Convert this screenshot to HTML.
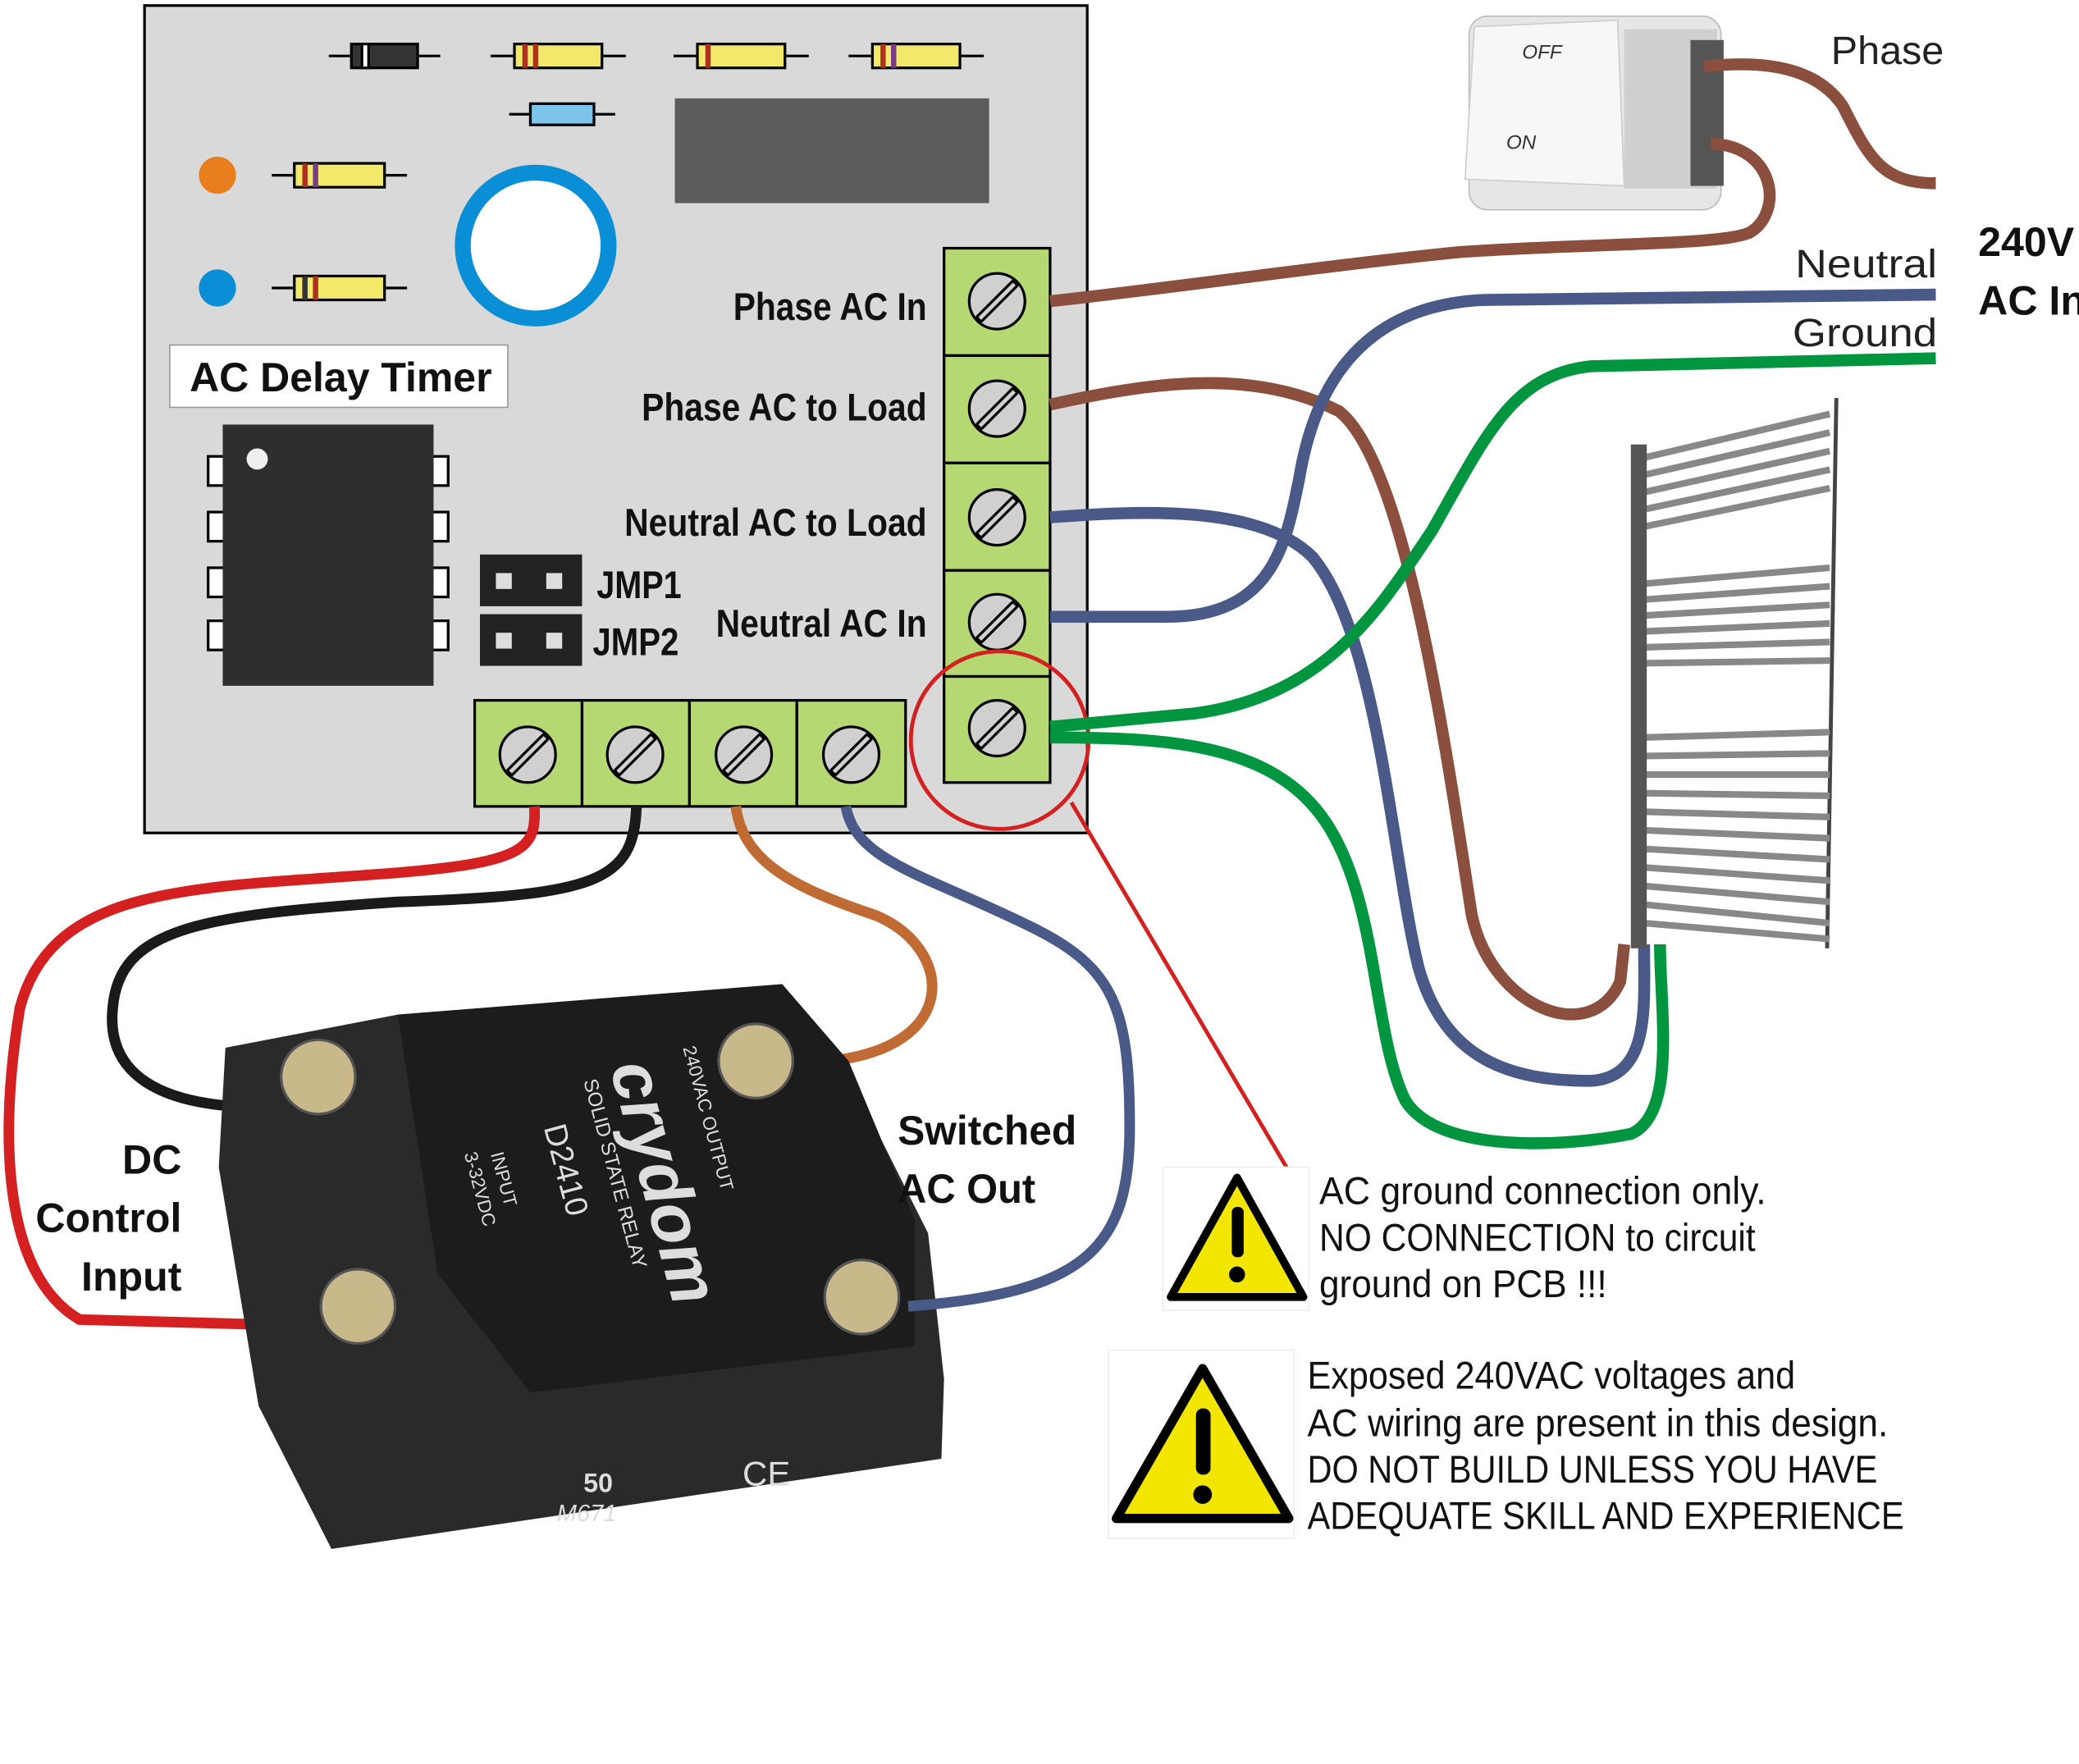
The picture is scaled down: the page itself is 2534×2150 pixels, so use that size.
<!DOCTYPE html>
<html><head><meta charset="utf-8"><style>
html,body{margin:0;padding:0;background:#fff}
svg{display:block}
.n{font-family:"Liberation Sans",sans-serif;font-weight:bold}
.s{font-family:"Liberation Sans",sans-serif}
</style></head><body>
<svg width="2534" height="2150" viewBox="0 0 1568 1330" xmlns="http://www.w3.org/2000/svg">
<rect width="1568" height="1330" fill="#fff"/>
<rect x="109" y="4" width="711" height="624" fill="#d9d9d9" stroke="#000" stroke-width="2"/>
<g stroke="#000" stroke-width="2">
<line x1="248" y1="42" x2="332" y2="42"/><rect x="265" y="33" width="50" height="18" fill="#333"/><rect x="273" y="33" width="5" height="18" fill="#fff"/>
<line x1="370" y1="42" x2="472" y2="42"/><rect x="388" y="33" width="66" height="18" fill="#f2e86a"/>
<line x1="508" y1="42" x2="610" y2="42"/><rect x="526" y="33" width="66" height="18" fill="#f2e86a"/>
<line x1="640" y1="42" x2="742" y2="42"/><rect x="658" y="33" width="66" height="18" fill="#f2e86a"/>
<line x1="384" y1="86" x2="464" y2="86"/><rect x="400" y="78" width="48" height="16" fill="#7cc4ea"/>
<line x1="205" y1="132" x2="307" y2="132"/><rect x="222" y="123" width="68" height="18" fill="#f2e86a"/>
<line x1="205" y1="217" x2="307" y2="217"/><rect x="222" y="208" width="68" height="18" fill="#f2e86a"/>
</g>
<g fill="#b03020"><rect x="394" y="33" width="4" height="18"/><rect x="402" y="33" width="4" height="18"/><rect x="532" y="33" width="4" height="18"/><rect x="664" y="33" width="4" height="18"/><rect x="672" y="33" width="4" height="18" fill="#7a3a8a"/><rect x="228" y="123" width="4" height="18"/><rect x="236" y="123" width="4" height="18" fill="#7a3a8a"/><rect x="228" y="208" width="4" height="18" fill="#333"/><rect x="236" y="208" width="4" height="18"/></g>
<rect x="509" y="74" width="237" height="79" fill="#5e5b5b"/>
<circle cx="404" cy="185" r="55" fill="#fff" stroke="#0a8fd6" stroke-width="12"/>
<circle cx="164" cy="132" r="14" fill="#e87e1c"/>
<circle cx="164" cy="217" r="14" fill="#0a8fd6"/>
<rect x="128" y="260" width="255" height="47" fill="#fff" stroke="#999"/>
<text x="143" y="295" class="s" font-size="31" font-weight="bold" fill="#111" textLength="228" lengthAdjust="spacingAndGlyphs">AC Delay Timer</text>
<g fill="#fff" stroke="#000" stroke-width="2">
<rect x="157" y="344" width="12" height="22"/><rect x="157" y="386" width="12" height="22"/><rect x="157" y="428" width="12" height="22"/><rect x="157" y="468" width="12" height="22"/>
<rect x="326" y="344" width="12" height="22"/><rect x="326" y="386" width="12" height="22"/><rect x="326" y="428" width="12" height="22"/><rect x="326" y="468" width="12" height="22"/>
</g>
<rect x="168" y="320" width="159" height="197" fill="#2e2e2e"/>
<circle cx="194" cy="346" r="8" fill="#eee"/>
<rect x="362" y="418" width="77" height="39" fill="#222"/><rect x="362" y="463" width="77" height="39" fill="#222"/>
<g fill="#ddd"><rect x="374" y="432" width="12" height="12"/><rect x="412" y="432" width="12" height="12"/><rect x="374" y="477" width="12" height="12"/><rect x="412" y="477" width="12" height="12"/></g>
<g class="n" font-size="29" fill="#111" lengthAdjust="spacingAndGlyphs">
<text x="450" y="451" textLength="64" lengthAdjust="spacingAndGlyphs">JMP1</text><text x="447" y="494" textLength="65" lengthAdjust="spacingAndGlyphs">JMP2</text>
<text x="553" y="241" textLength="146" lengthAdjust="spacingAndGlyphs">Phase AC In</text>
<text x="484" y="317" textLength="215" lengthAdjust="spacingAndGlyphs">Phase AC to Load</text>
<text x="471" y="404" textLength="228" lengthAdjust="spacingAndGlyphs">Neutral AC to Load</text>
<text x="540" y="480" textLength="159" lengthAdjust="spacingAndGlyphs">Neutral AC In</text>
</g>
<g fill="#b6d873" stroke="#000" stroke-width="2">
<rect x="712" y="187" width="80" height="81"/><rect x="712" y="268" width="80" height="81"/><rect x="712" y="349" width="80" height="81"/><rect x="712" y="430" width="80" height="80"/><rect x="712" y="510" width="80" height="80"/>
<rect x="358" y="528" width="81" height="80"/><rect x="439" y="528" width="81" height="80"/><rect x="520" y="528" width="81" height="80"/><rect x="601" y="528" width="82" height="80"/>
</g>
<g fill="#d0d0d0" stroke="#000" stroke-width="2">
<circle cx="752" cy="227" r="21"/><circle cx="752" cy="308" r="21"/><circle cx="752" cy="390" r="21"/><circle cx="752" cy="469" r="21"/><circle cx="752" cy="549" r="21"/>
<circle cx="398" cy="569" r="21"/><circle cx="479" cy="569" r="21"/><circle cx="561" cy="569" r="21"/><circle cx="642" cy="569" r="21"/>
</g>
<g stroke="#000" stroke-width="7" stroke-linecap="round">
<path d="M739 240L765 214M739 321L765 295M739 403L765 377M739 482L765 456M739 562L765 536M385 582L411 556M466 582L492 556M548 582L574 556M629 582L655 556"/>
</g>
<g stroke="#d0d0d0" stroke-width="3"><path d="M739 240L765 214M739 321L765 295M739 403L765 377M739 482L765 456M739 562L765 536M385 582L411 556M466 582L492 556M548 582L574 556M629 582L655 556"/></g>
<circle cx="754" cy="558" r="67" fill="none" stroke="#d42020" stroke-width="3"/>
<line x1="808" y1="605" x2="982" y2="900" stroke="#d42020" stroke-width="3"/>
<rect x="1108" y="12" width="190" height="146" rx="14" fill="#e6e6e6" stroke="#bbb"/>
<rect x="1225" y="22" width="70" height="120" fill="#cfcfcf"/>
<path d="M1112 20L1220 15L1225 140L1105 135Z" fill="#f7f7f7" stroke="#ccc"/>
<text x="1148" y="44" class="s" font-size="15" font-style="italic" fill="#333">OFF</text>
<text x="1136" y="112" class="s" font-size="15" font-style="italic" fill="#333">ON</text>
<rect x="1275" y="30" width="25" height="110" fill="#555"/>
<g fill="none" stroke-width="9" stroke-linecap="butt">
<path d="M1285 50C1330 45 1370 50 1390 80C1410 120 1420 138 1460 138" stroke="#8b4f3e"/>
<path d="M792 227C900 215 1000 200 1100 190C1200 183 1300 185 1320 175C1345 160 1340 110 1290 108" stroke="#8b4f3e"/>
<path d="M792 305C880 285 950 280 1010 310C1060 350 1090 560 1110 690C1125 760 1200 790 1222 740L1225 712" stroke="#8b4f3e"/>
<path d="M1460 222L1120 226C1020 230 990 300 980 360C970 410 960 465 880 465L792 465" stroke="#4a5a88"/>
<path d="M792 390C860 385 950 380 990 420C1040 480 1050 650 1070 730C1090 800 1140 815 1200 815C1245 812 1240 760 1240 712" stroke="#4a5a88"/>
<path d="M1460 270L1200 276C1140 282 1120 330 1080 400C1040 460 1000 525 900 538L792 548" stroke="#009640"/>
<path d="M792 556C880 556 960 560 1000 620C1040 680 1035 780 1060 830C1085 870 1180 865 1230 855C1265 840 1252 760 1252 712" stroke="#009640"/>
</g>
<g class="s" font-size="30" fill="#222">
<text x="1381" y="48">Phase</text><text x="1354" y="209" textLength="107" lengthAdjust="spacingAndGlyphs">Neutral</text><text x="1352" y="261" textLength="109" lengthAdjust="spacingAndGlyphs">Ground</text>
</g>
<g class="s" font-size="31" font-weight="bold" fill="#111"><text x="1492" y="193">240V</text><text x="1492" y="237">AC In</text></g>
<g stroke="#444" stroke-width="3" fill="none">
<line x1="1240" y1="340" x2="1240" y2="715"/><line x1="1385" y1="300" x2="1378" y2="715"/>
</g>
<g stroke="#888" stroke-width="5">
<path d="M1240 345L1380 312M1240 358L1380 326M1240 371L1380 340M1240 384L1380 354M1240 397L1380 368M1240 440L1380 428M1240 452L1380 442M1240 464L1380 456M1240 476L1380 470M1240 488L1380 484M1240 500L1380 498M1240 556L1380 552M1240 570L1380 568M1240 584L1380 584M1240 598L1380 600M1240 612L1380 616M1240 626L1380 632M1240 640L1380 648M1240 654L1380 664M1240 668L1380 680M1240 682L1380 696M1240 696L1380 708"/>
</g>
<rect x="1230" y="335" width="12" height="380" fill="#555"/>
<g fill="none" stroke-width="8">
<path d="M403 608C405 640 395 650 300 658C150 670 40 665 15 760C0 850 0 960 60 995L245 1000" stroke="#d42020"/>
<path d="M480 608C478 665 450 675 300 680C150 690 90 700 85 760C80 810 120 835 200 835" stroke="#1a1a1a"/>
<path d="M555 608C560 650 600 670 660 690C720 715 725 790 625 800" stroke="#c06a34"/>
</g>
<path d="M170 790L300 765L470 752L590 742L635 800L700 930L712 1040L710 1100L250 1168L195 1060L185 1000L165 880Z" fill="#2a2a2a"/>
<path d="M300 765L590 742L640 800L690 920L690 1015L400 1050L330 960Z" fill="#1c1c1c"/>
<g fill="#c8b88a" stroke="#555" stroke-width="2">
<circle cx="240" cy="812" r="28"/><circle cx="570" cy="800" r="28"/><circle cx="270" cy="985" r="28"/><circle cx="650" cy="978" r="28"/>
</g>
<g fill="#ddd" font-family="Liberation Sans,sans-serif">
<text transform="translate(460,805) rotate(75)" font-size="52" font-weight="bold" font-style="italic">crydom</text>
<text transform="translate(440,815) rotate(75)" font-size="15">SOLID STATE RELAY</text>
<text transform="translate(410,850) rotate(75)" font-size="24">D2410</text>
<text transform="translate(515,790) rotate(75)" font-size="14">240VAC  OUTPUT</text>
<text transform="translate(370,870) rotate(75)" font-size="14">INPUT</text>
<text transform="translate(350,870) rotate(75)" font-size="14">3-32VDC</text>
<text x="420" y="1147" font-size="18" font-style="italic">M671</text>
<text x="560" y="1120" font-size="26">CE</text>
<text x="440" y="1125" font-size="20" font-weight="bold">50</text>
</g>
<path d="M638 608C645 650 700 660 780 700C840 730 852 760 852 850C852 940 820 975 685 985" fill="none" stroke="#4a5a88" stroke-width="8"/>
<g class="s" font-size="31" font-weight="bold" fill="#111">
<text x="137" y="885" text-anchor="end">DC</text><text x="137" y="929" text-anchor="end">Control</text><text x="137" y="973" text-anchor="end">Input</text>
<text x="677" y="863" textLength="135" lengthAdjust="spacingAndGlyphs">Switched</text><text x="677" y="907" textLength="104" lengthAdjust="spacingAndGlyphs">AC Out</text>
</g>
<rect x="877" y="880" width="110" height="108" fill="#fff" stroke="#eee"/>
<path d="M933 888L983 978L883 978Z" fill="#f2e600" stroke="#000" stroke-width="6" stroke-linejoin="round"/>
<rect x="929" y="910" width="9" height="38" rx="4" fill="#000"/><circle cx="933" cy="961" r="6" fill="#000"/>
<rect x="836" y="1018" width="140" height="142" fill="#fff" stroke="#eee"/>
<path d="M907 1032L972 1145L842 1145Z" fill="#f2e600" stroke="#000" stroke-width="7" stroke-linejoin="round"/>
<rect x="902" y="1062" width="11" height="50" rx="5" fill="#000"/><circle cx="907" cy="1127" r="7" fill="#000"/>
<g class="s" font-size="29" fill="#111">
<text x="995" y="908" textLength="337" lengthAdjust="spacingAndGlyphs">AC ground connection only.</text>
<text x="995" y="943" textLength="329" lengthAdjust="spacingAndGlyphs">NO CONNECTION to circuit</text>
<text x="995" y="978" textLength="217" lengthAdjust="spacingAndGlyphs">ground on PCB !!!</text>
<text x="986" y="1047" textLength="368" lengthAdjust="spacingAndGlyphs">Exposed 240VAC voltages and</text>
<text x="986" y="1083" textLength="438" lengthAdjust="spacingAndGlyphs">AC wiring are present in this design.</text>
<text x="986" y="1118" textLength="430" lengthAdjust="spacingAndGlyphs">DO NOT BUILD UNLESS YOU HAVE</text>
<text x="986" y="1153" textLength="450" lengthAdjust="spacingAndGlyphs">ADEQUATE SKILL AND EXPERIENCE</text>
</g>
</svg>
</body></html>
